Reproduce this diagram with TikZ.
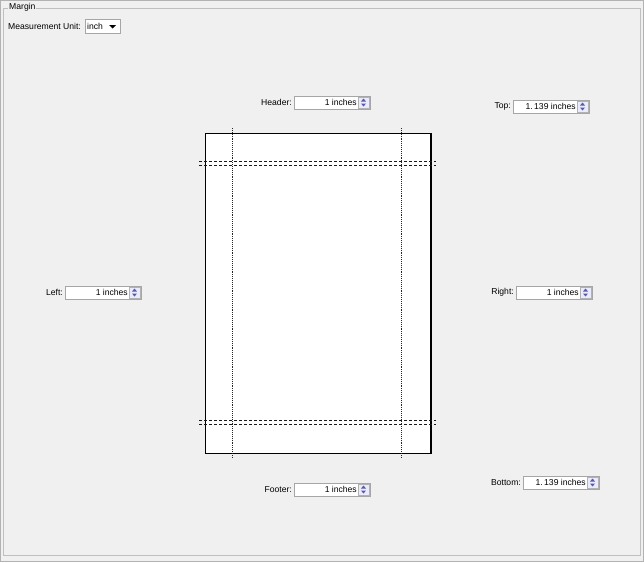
\documentclass[tikz,border=0pt]{standalone}
\usepackage{fontspec}
\setmainfont{Liberation Sans}
\begin{document}
\begin{tikzpicture}[x=1pt,y=-1pt,font=\fontsize{8.6}{10}\selectfont,
 field/.style={draw=gray!70,fill=white,minimum width=76pt,minimum height=13pt,inner sep=0pt},
 spin/.style={draw=gray!60,fill=blue!8,minimum width=11pt,minimum height=11pt,inner sep=0pt},
 lbl/.style={anchor=east,inner sep=1pt},
 guide/.style={gray!30!black,densely dotted,line width=0.9pt}]
\fill[gray!12] (0,0) rectangle (644,562);
\draw[gray!60] (0.5,0.5) rectangle (643.5,561.5);
\draw[gray!50] (3,8) rectangle (640,555);
\node[fill=gray!12,anchor=west,inner sep=1pt] (title) at (8,7) {Margin};
\node[anchor=west,inner sep=0pt] (mu) at (8,26) {Measurement Unit:};
\node[draw=gray!70,fill=white,minimum width=35pt,minimum height=14pt,inner sep=0pt] (combo) at (102.5,26) {};
\node[anchor=west,inner sep=0pt] (ctext) at (87,26) {inch};
\fill (109,25) -- (116,25) -- (112.5,28.5) -- cycle;
% page
\node[draw=black,fill=white,minimum width=226pt,minimum height=320pt,inner sep=0pt,anchor=north west] (page) at (205,133) {};
\draw[line width=1.5pt] (431,133) -- (431,453.5) -- (205,453.5);
\coordinate (v1t) at (232,128); \coordinate (v1b) at (232,458);
\coordinate (v2t) at (401,128); \coordinate (v2b) at (401,458);
\draw[guide] (v1t) -- (v1b); \draw[guide] (v2t) -- (v2b);
\foreach \y in {161,165,420,424}{\draw[gray!20!black,densely dashed,line width=0.6pt] (199,\y) -- (436,\y);}
% fields
\foreach \n/\x/\y/\t/\v in {header/332/102.5/Header:/1 inches, top/551/106.5/Top:/1.\,139 inches, left/103/292.5/Left:/1 inches, right/554/292.5/Right:/1 inches, footer/332/489.5/Footer:/1 inches, bottom/561/482.5/Bottom:/1.\,139 inches}{
 \node[field] (\n) at (\x,\y) {};
 \node[anchor=east,inner sep=0pt] (\n v) at (\x+25,\y) {\v};
 \node[spin] (\n s) at (\x+31.5,\y) {};
 \fill[gray!70!blue] (\x+29,\y-1) -- (\x+34,\y-1) -- (\x+31.5,\y-4) -- cycle;
 \fill[gray!70!blue] (\x+29,\y+1) -- (\x+34,\y+1) -- (\x+31.5,\y+4) -- cycle;
 \node[lbl] (\n l) at (\x-39,\y) {\t};
}
\end{tikzpicture}
\end{document}
